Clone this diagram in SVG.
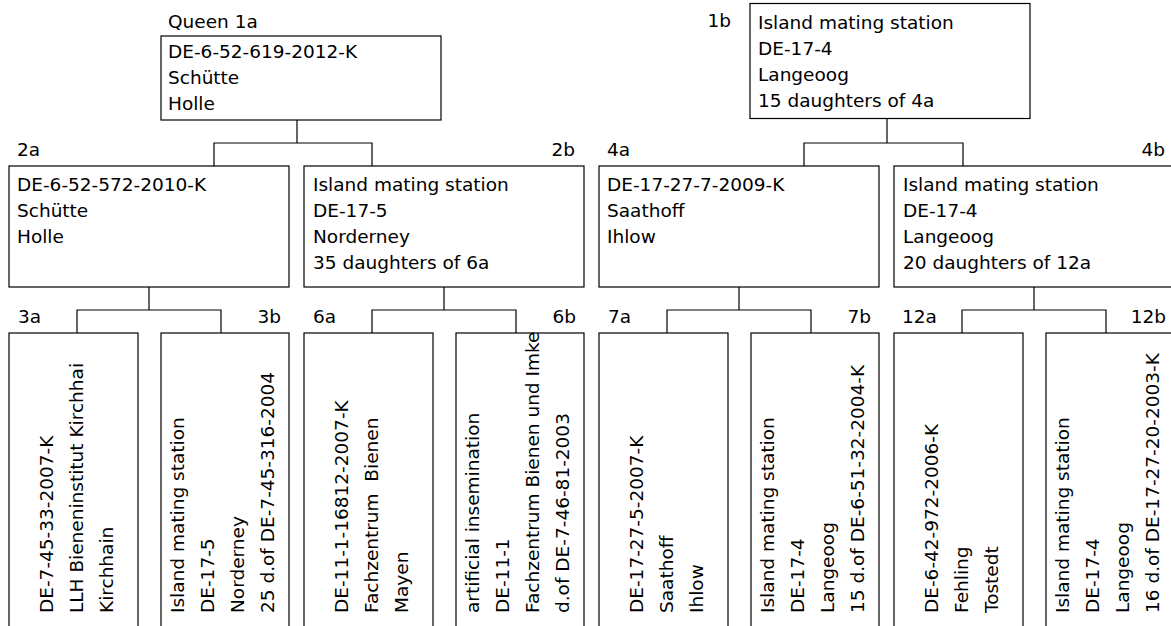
<svg xmlns="http://www.w3.org/2000/svg" width="1171" height="626" viewBox="0 0 1171 626">
<style>
text{font-family:"DejaVu Sans",sans-serif;font-size:18.5px;fill:#000;white-space:pre}
.box{fill:#fff;stroke:#000;stroke-width:1.2}
.conn{fill:none;stroke:#000;stroke-width:1.2}
.end{text-anchor:end}
</style>
<rect width="1171" height="626" fill="#fff"/>
<g id="connectors" class="conn">
<path d="M297,120V143M214,166V143H372V166"/>
<path d="M887,118V143M804,166V143H963V166"/>
<path d="M149,287V310M77,333V310H221V333"/>
<path d="M444,287V310M372,333V310H516V333"/>
<path d="M739,287V310M667,333V310H811V333"/>
<path d="M1034,287V310M962,333V310H1106V333"/>
</g>
<g id="n1a">
<text x="168" y="28">Queen 1a</text>
<rect class="box" x="161" y="36" width="280" height="84"/>
<text x="168" y="58">DE-6-52-619-2012-K</text>
<text x="168" y="84">Schütte</text>
<text x="168" y="110">Holle</text>
</g>
<g id="n1b">
<text class="end" x="731" y="27">1b</text>
<rect class="box" x="750" y="3.5" width="280" height="115"/>
<text x="758" y="29">Island mating station</text>
<text x="758" y="55">DE-17-4</text>
<text x="758" y="81">Langeoog</text>
<text x="758" y="107">15 daughters of 4a</text>
</g>
<g id="n2a">
<text x="17" y="156">2a</text>
<rect class="box" x="9" y="166" width="280" height="121"/>
<text x="17" y="191">DE-6-52-572-2010-K</text>
<text x="17" y="217">Schütte</text>
<text x="17" y="243">Holle</text>
</g>
<g id="n2b">
<text class="end" x="575" y="156">2b</text>
<rect class="box" x="304" y="166" width="280" height="121"/>
<text x="313" y="191">Island mating station</text>
<text x="313" y="217">DE-17-5</text>
<text x="313" y="243">Norderney</text>
<text x="313" y="269">35 daughters of 6a</text>
</g>
<g id="n4a">
<text x="607" y="156">4a</text>
<rect class="box" x="599" y="166" width="280" height="121"/>
<text x="607" y="191">DE-17-27-7-2009-K</text>
<text x="607" y="217">Saathoff</text>
<text x="607" y="243">Ihlow</text>
</g>
<g id="n4b">
<text class="end" x="1165" y="156">4b</text>
<rect class="box" x="894" y="166" width="280" height="121"/>
<text x="903" y="191">Island mating station</text>
<text x="903" y="217">DE-17-4</text>
<text x="903" y="243">Langeoog</text>
<text x="903" y="269">20 daughters of 12a</text>
</g>
<g id="n3a">
<text x="18" y="323">3a</text>
<rect class="box" x="9" y="333" width="129" height="300"/>
<text transform="translate(52.5,613) rotate(-90)"><tspan x="0" y="0">DE-7-45-33-2007-K</tspan><tspan x="0" y="30">LLH Bieneninstitut Kirchhai</tspan><tspan x="0" y="60">Kirchhain</tspan></text>
</g>
<g id="n3b">
<text class="end" x="281" y="323">3b</text>
<rect class="box" x="161" y="333" width="128" height="300"/>
<text transform="translate(183.5,613) rotate(-90)"><tspan x="0" y="0">Island mating station</tspan><tspan x="0" y="30">DE-17-5</tspan><tspan x="0" y="60">Norderney</tspan><tspan x="0" y="90">25 d.of DE-7-45-316-2004</tspan></text>
</g>
<g id="n6a">
<text x="313" y="323">6a</text>
<rect class="box" x="304" y="333" width="129" height="300"/>
<text transform="translate(347.5,613) rotate(-90)"><tspan x="0" y="0">DE-11-1-16812-2007-K</tspan><tspan x="0" y="30">Fachzentrum  Bienen</tspan><tspan x="0" y="60">Mayen</tspan></text>
</g>
<g id="n6b">
<text class="end" x="576" y="323">6b</text>
<rect class="box" x="456" y="333" width="128" height="300"/>
<text transform="translate(478.5,613) rotate(-90)"><tspan x="0" y="0">artificial insemination</tspan><tspan x="0" y="30">DE-11-1</tspan><tspan x="0" y="60">Fachzentrum Bienen und Imke</tspan><tspan x="0" y="90">d.of DE-7-46-81-2003</tspan></text>
</g>
<g id="n7a">
<text x="608" y="323">7a</text>
<rect class="box" x="599" y="333" width="129" height="300"/>
<text transform="translate(642.5,613) rotate(-90)"><tspan x="0" y="0">DE-17-27-5-2007-K</tspan><tspan x="0" y="30">Saathoff</tspan><tspan x="0" y="60">Ihlow</tspan></text>
</g>
<g id="n7b">
<text class="end" x="871" y="323">7b</text>
<rect class="box" x="751" y="333" width="128" height="300"/>
<text transform="translate(773.5,613) rotate(-90)"><tspan x="0" y="0">Island mating station</tspan><tspan x="0" y="30">DE-17-4</tspan><tspan x="0" y="60">Langeoog</tspan><tspan x="0" y="90">15 d.of DE-6-51-32-2004-K</tspan></text>
</g>
<g id="n12a">
<text x="902" y="323">12a</text>
<rect class="box" x="894" y="333" width="129" height="300"/>
<text transform="translate(937.5,613) rotate(-90)"><tspan x="0" y="0">DE-6-42-972-2006-K</tspan><tspan x="0" y="30">Fehling</tspan><tspan x="0" y="60">Tostedt</tspan></text>
</g>
<g id="n12b">
<text class="end" x="1166" y="323">12b</text>
<rect class="box" x="1046" y="333" width="128" height="300"/>
<text transform="translate(1068.5,613) rotate(-90)"><tspan x="0" y="0">Island mating station</tspan><tspan x="0" y="30">DE-17-4</tspan><tspan x="0" y="60">Langeoog</tspan><tspan x="0" y="90">16 d.of DE-17-27-20-2003-K</tspan></text>
</g>
</svg>
